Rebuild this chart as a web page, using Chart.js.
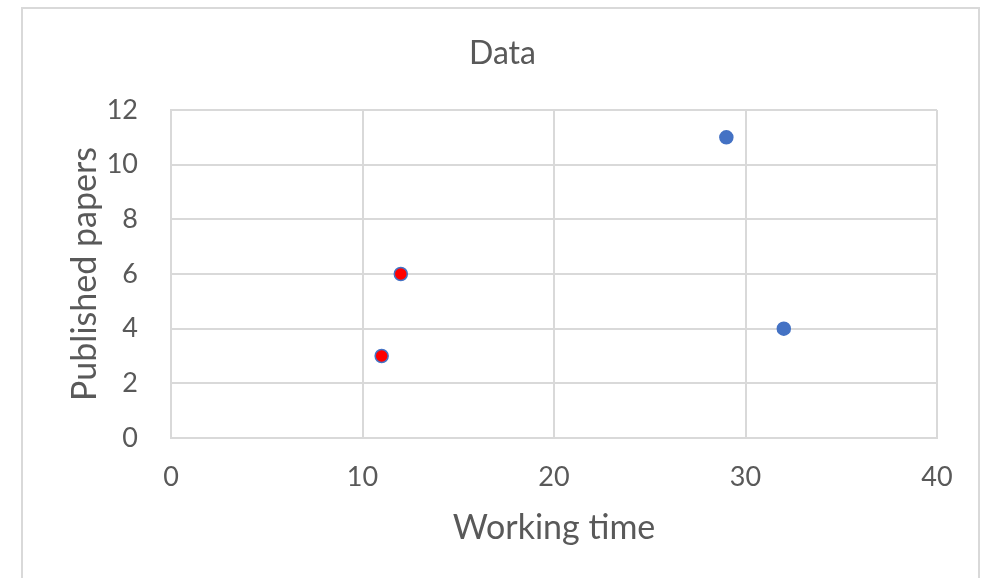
<!DOCTYPE html>
<html>
<head>
<meta charset="utf-8">
<script src="https://cdn.jsdelivr.net/npm/chart.js@4"></script>
<style>
  html, body { margin: 0; padding: 0; background: #fff; }
  #wrap { position: relative; width: 992px; height: 578px; overflow: hidden; }
  #frame { position: absolute; left: 21px; top: 7px; width: 959px; height: 600px;
           border: 2px solid #d9d9d9; box-sizing: border-box; }
  #c { position: absolute; left: 0; top: 0; }
</style>
</head>
<body>
<div id="wrap">
  <div id="frame"></div>
  <canvas id="c" width="992" height="578"></canvas>
</div>
<script>
// Working time vs. published papers
const workingTime   = [11, 12, 29, 32];
const papers        = [3, 6, 11, 4];
const highlighted   = [true, true, false, false];
const xTicks        = [0, 10, 20, 30, 40];
const yTicks        = [0, 2, 4, 6, 8, 10, 12];

const BLUE = '#4472C4';
const RED = '#FF0000';
const TEXT = '#595959';
const GRID = '#d9d9d9';

const points = workingTime.map((x, i) => ({ x, y: papers[i] }));

const font = 'Lato, "Open Sans", sans-serif';

new Chart(document.getElementById('c'), {
  type: 'scatter',
  data: {
    datasets: [{
      label: 'Published papers',
      data: points,
      pointRadius: 6.5,
      pointHoverRadius: 6.5,
      pointBorderWidth: 1.5,
      pointBackgroundColor: highlighted.map(h => h ? RED : BLUE),
      pointBorderColor: BLUE
    }]
  },
  options: {
    responsive: false,
    animation: false,
    events: [],
    layout: { padding: { left: 22, right: 9, top: 0, bottom: 0 } },
    plugins: {
      legend: { display: false },
      tooltip: { enabled: false },
      title: {
        display: true,
        text: 'Data',
        color: TEXT,
        font: { family: font, size: 32, weight: 'normal' },
        padding: { top: 34, bottom: 37.6 }
      }
    },
    scales: {
      x: {
        type: 'linear',
        min: xTicks[0],
        max: xTicks[xTicks.length - 1],
        afterBuildTicks: s => { s.ticks = xTicks.map(v => ({ value: v })); },
        afterFit: s => { s.height = 140; },
        grid: { color: GRID, lineWidth: 2, drawTicks: false },
        border: { color: GRID, width: 2 },
        ticks: { color: TEXT, font: { family: font, size: 27 }, padding: 23 },
        title: {
          display: true,
          text: 'Working time',
          color: TEXT,
          font: { family: font, size: 34 },
          padding: { top: 0, bottom: 29.6 }
        }
      },
      y: {
        type: 'linear',
        position: 'left',
        min: yTicks[0],
        max: yTicks[yTicks.length - 1],
        afterBuildTicks: s => { s.ticks = yTicks.map(v => ({ value: v })); },
        afterFit: s => { s.width = 149; },
        grid: { color: GRID, lineWidth: 2, drawTicks: false },
        border: { color: GRID, width: 2 },
        ticks: { color: TEXT, font: { family: font, size: 27 }, padding: 33 },
        title: {
          display: true,
          text: 'Published papers',
          color: TEXT,
          font: { family: font, size: 34 },
          padding: { top: 42.6, bottom: 0 }
        }
      },
      // empty right-hand gutter between the plot and the frame
      gutter: {
        type: 'linear',
        position: 'right',
        display: true,
        afterFit: s => { s.width = 46; },
        grid: { display: false, drawTicks: false },
        border: { display: false },
        ticks: { display: false },
        title: { display: false }
      }
    }
  }
});
</script>
</body>
</html>
